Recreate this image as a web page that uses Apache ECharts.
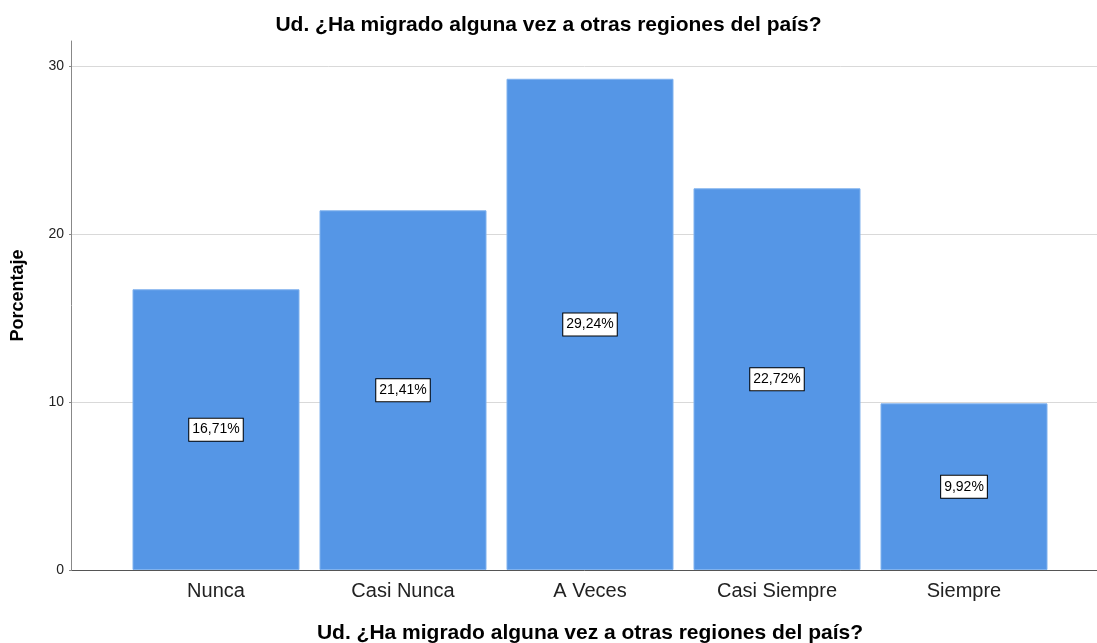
<!DOCTYPE html>
<html>
<head>
<meta charset="utf-8">
<script src="https://cdn.jsdelivr.net/npm/echarts@6/dist/echarts.min.js"></script>
<style>
html, body { margin: 0; padding: 0; background: #fff; }
#main { width: 1097px; height: 643px; }
</style>
</head>
<body>
<div id="main"></div>
<script>
// datos del gráfico
var categorias = ['Nunca', 'Casi Nunca', 'A Veces', 'Casi Siempre', 'Siempre'];
var porcentajes = [16.71, 21.41, 29.24, 22.72, 9.92];
var titulo = 'Ud. ¿Ha migrado alguna vez a otras regiones del país?';

var fuente = '"Liberation Sans", Arial, sans-serif';
var myChart = echarts.init(document.getElementById('main'));

var option = {
    backgroundColor: '#fff',
    animation: false,
    title: {
        text: titulo,
        left: 'center',
        top: 10,
        textStyle: { fontFamily: fuente, fontSize: 21, fontWeight: 'bold', color: '#000' }
    },
    grid: [
        // ejes y rejilla de fondo
        { left: 72, right: 0, top: 66, bottom: 73, outerBoundsMode: 'none' },
        // linea del eje Y (llega mas arriba que 30)
        { left: 71, width: 1, top: 41, bottom: 73, outerBoundsMode: 'none' },
        // barras
        { left: 122.5, right: 39.5, top: 66, bottom: 73, outerBoundsMode: 'none' }
    ],
    xAxis: [
        {
            gridIndex: 0, type: 'value', min: 0, max: 1,
            axisLine: { show: true, lineStyle: { color: '#555', width: 1 } },
            axisTick: { show: false }, axisLabel: { show: false }, splitLine: { show: false }
        },
        {
            gridIndex: 1, type: 'value', show: false
        },
        {
            gridIndex: 2, type: 'category', data: categorias,
            axisLine: { show: false }, axisTick: { show: false },
            axisLabel: { fontFamily: fuente, fontSize: 20, color: '#222', margin: 11 },
            name: titulo, nameLocation: 'middle', nameGap: 53,
            nameTextStyle: { fontFamily: fuente, fontSize: 21, fontWeight: 'bold', color: '#000' }
        }
    ],
    yAxis: [
        {
            gridIndex: 0, type: 'value', min: 0, max: 30, interval: 10,
            axisLine: { show: false },
            axisTick: { show: true, length: 3, lineStyle: { color: '#888' } },
            axisLabel: { fontFamily: fuente, fontSize: 14, color: '#222', margin: 8 },
            splitLine: { show: true, lineStyle: { color: '#d9d9d9', width: 1 } }
        },
        {
            gridIndex: 1, type: 'value', min: 0, max: 31.5,
            axisLine: { show: true, lineStyle: { color: '#888', width: 1 } },
            axisTick: { show: false }, axisLabel: { show: false }, splitLine: { show: false },
            name: 'Porcentaje', nameLocation: 'middle', nameGap: 44, nameRotate: 90,
            nameTextStyle: { fontFamily: fuente, fontSize: 18, fontWeight: 'bold', color: '#000', padding: [0, 0, 0, 20] }
        },
        {
            gridIndex: 2, type: 'value', min: 0, max: 30, show: false
        }
    ],
    series: [
        {
            type: 'bar',
            xAxisIndex: 2, yAxisIndex: 2,
            data: porcentajes,
            barWidth: 167,
            itemStyle: { color: '#5596e6', borderColor: '#80b2ee', borderWidth: 1 },
            label: {
                show: true,
                position: 'inside',
                formatter: function (p) { return p.value.toFixed(2).replace('.', ',') + '%'; },
                fontFamily: fuente, fontSize: 14, color: '#000',
                backgroundColor: '#fff', borderColor: '#000', borderWidth: 1,
                padding: [4, 3, 4, 3]
            }
        }
    ]
};
myChart.setOption(option);
</script>
</body>
</html>
